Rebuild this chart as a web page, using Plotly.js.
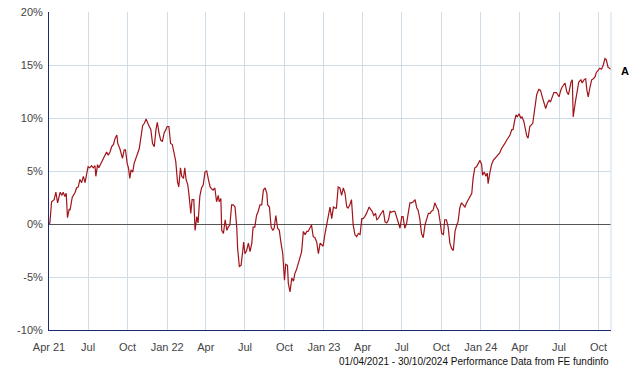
<!DOCTYPE html>
<html>
<head>
<meta charset="utf-8">
<script src="https://cdn.plot.ly/plotly-3.0.1.min.js"></script>
<style>html,body{margin:0;padding:0;background:#fff;}#chart{width:640px;height:370px;}</style>
</head>
<body>
<div id="chart"></div>
<script>
// Performance data (cumulative %), start date 01/04/2021
const startDate = '2021-04-01';
const endDate = '2024-10-30';
const seriesName = 'A';
// days elapsed since startDate
const dayOffsets = [0,2,6,12,16,20,26,30,33,37,40,43,47,49,54,61,64,68,72,76,80,84,88,91,95,99,103,107,109,113,116,121,126,130,134,138,142,146,150,154,158,160,165,171,175,178,182,185,188,191,195,198,202,206,210,214,218,222,226,230,233,237,241,245,249,252,256,260,264,268,272,275,279,283,287,291,295,299,302,306,309,313,316,319,323,326,330,333,337,340,344,347,351,355,359,363,367,371,375,379,382,386,390,394,396,400,402,406,410,414,417,421,425,429,433,437,439,443,447,451,453,456,460,464,468,472,475,479,483,487,491,495,499,503,507,509,513,517,521,524,528,532,536,540,544,548,551,555,557,561,565,569,572,576,580,584,588,592,596,600,603,607,611,615,619,623,627,631,635,638,642,646,650,654,658,662,666,669,673,677,681,685,689,693,696,700,704,708,712,716,720,724,728,731,735,739,745,749,752,756,760,763,766,770,774,778,782,786,790,794,797,801,805,809,813,817,821,824,828,832,836,840,844,848,852,856,859,863,867,871,875,879,883,887,890,894,898,902,906,910,914,918,921,925,929,933,937,941,945,949,952,956,960,964,968,972,976,980,984,987,991,995,999,1003,1007,1009,1013,1017,1020,1022,1026,1030,1034,1038,1042,1046,1049,1053,1057,1061,1065,1069,1073,1077,1080,1084,1087,1090,1094,1098,1101,1105,1108,1112,1115,1119,1126,1131,1135,1140,1144,1148,1152,1156,1160,1164,1167,1171,1175,1181,1187,1191,1194,1201,1205,1209,1212,1215,1218,1220,1225,1229,1233,1238,1241,1245,1249,1252,1255,1259,1263,1267,1271,1274,1278,1282,1286,1290,1294,1297,1301,1308];
const values = [0.0,0.1,2.1,2.3,3.0,2.0,3.0,2.7,3.0,2.6,2.9,0.6,1.4,1.3,2.5,3.0,3.4,3.5,4.2,3.9,4.5,3.9,4.8,5.4,5.3,5.5,5.3,5.5,4.5,5.6,5.3,5.7,6.2,6.4,6.8,6.5,6.8,7.3,7.5,8.1,8.4,7.6,7.1,6.2,7.0,7.0,5.7,5.3,4.3,5.1,4.9,5.7,6.2,6.7,7.1,8.2,9.3,9.5,9.9,9.5,9.3,8.9,7.6,7.3,8.9,9.6,8.6,7.9,7.8,8.6,8.9,9.2,9.2,7.6,7.5,6.8,5.9,4.0,3.5,5.3,4.5,4.3,5.3,4.2,3.7,2.7,1.0,2.3,2.3,-0.6,0.7,0.1,2.6,3.4,3.7,4.9,5.0,4.2,3.5,3.3,3.2,3.4,2.1,2.7,2.1,2.4,-0.6,-0.9,0.4,-0.6,-0.3,-0.1,1.8,1.8,1.6,-0.3,-2.3,-4.0,-3.9,-2.5,-1.7,-2.8,-2.5,-1.8,-2.6,-1.8,-0.3,-0.3,0.8,1.2,1.8,1.8,3.2,3.4,2.9,1.8,1.6,-0.3,-0.6,-0.4,0.8,-0.4,-0.6,-1.8,-2.8,-5.3,-3.8,-3.9,-5.6,-6.4,-5.1,-5.4,-4.7,-4.3,-3.6,-3.2,-2.6,-0.7,-1.0,-0.7,-0.7,-0.4,-0.1,-1.2,-1.3,-1.7,-2.8,-1.8,-2.0,-2.1,-1.0,-0.1,0.8,1.6,0.5,1.6,1.5,1.5,3.5,3.4,2.7,3.4,2.9,1.6,1.5,1.8,2.3,-0.1,-1.0,-1.2,-0.9,-1.0,0.5,0.5,0.7,1.0,1.6,1.4,1.2,0.8,1.0,0.4,0.5,0.8,1.1,1.3,0.2,0.1,0.4,1.2,1.1,1.2,1.2,0.7,0.1,-0.4,0.7,0.7,-0.4,0.0,1.0,2.0,2.0,2.1,2.3,1.5,1.3,0.5,-0.9,-1.3,-0.1,0.5,1.0,1.0,1.2,1.3,2.0,1.6,1.3,0.3,-0.9,-1.0,0.4,0.4,-0.3,-1.8,-2.3,-2.5,-0.7,-0.1,0.2,1.5,2.0,1.8,1.6,2.0,2.3,2.6,2.9,4.3,5.3,5.4,5.7,6.0,5.6,4.6,4.9,4.5,4.8,3.8,4.8,5.6,6.0,6.2,6.4,6.5,6.7,7.1,7.3,7.6,7.9,8.2,8.4,8.9,8.9,9.8,10.3,10.1,10.4,10.0,10.1,9.7,8.9,8.3,8.1,9.2,9.5,11.1,12.2,12.7,12.6,12.0,11.5,10.9,11.4,11.7,11.5,12.0,12.4,12.4,12.0,12.6,12.9,13.3,12.5,12.2,12.9,13.4,13.6,10.1,11.5,12.6,13.4,13.6,13.3,13.6,13.7,12.6,12.0,12.9,13.6,13.7,13.9,14.3,14.5,14.7,14.6,15.0,15.6,15.5,14.8,14.6];
const tickDates = ['2021-04-01','2021-07-01','2021-10-01','2022-01-01','2022-04-01','2022-07-01','2022-10-01','2023-01-01','2023-04-01','2023-07-01','2023-10-01','2024-01-01','2024-04-01','2024-07-01','2024-10-01'];
const tickLabels = ['Apr 21','Jul','Oct','Jan 22','Apr','Jul','Oct','Jan 23','Apr','Jul','Oct','Jan 24','Apr','Jul','Oct'];
const yTicks = [-10,-5,0,5,10,15,20];
const yTickLabels = ['-10%','-5%','0%','5%','10%','15%','20%'];
const footer = '01/04/2021 - 30/10/2024 Performance Data from FE fundinfo';

function addDays(s, n) {
  const d = new Date(s + 'T00:00:00Z');
  d.setUTCDate(d.getUTCDate() + n);
  return d.toISOString().slice(0, 10);
}
const dates = dayOffsets.map(n => addDays(startDate, n));

const gridColor = '#cfdde8';
const trace = {
  x: dates, y: values, type: 'scatter', mode: 'lines',
  line: {color: '#a0141a', width: 1.2},
  hoverinfo: 'skip'
};
const layout = {
  width: 640, height: 370,
  margin: {l: 49, r: 29, t: 12, b: 40},
  paper_bgcolor: '#fff', plot_bgcolor: '#fff',
  showlegend: false,
  font: {family: 'Liberation Sans, Arial, sans-serif', size: 11, color: '#333'},
  xaxis: {
    type: 'date', range: [startDate, endDate],
    tickmode: 'array', tickvals: tickDates, ticktext: tickLabels,
    showgrid: true, gridcolor: gridColor, gridwidth: 1,
    showline: true, linecolor: '#1c2a6e', linewidth: 1,
    ticks: '', ticklabelstandoff: 7, zeroline: false, tickfont: {size: 11, color: '#444'}
  },
  yaxis: {
    range: [-10, 20], tickmode: 'array', tickvals: yTicks, ticktext: yTickLabels,
    showgrid: true, gridcolor: gridColor, gridwidth: 1,
    showline: true, linecolor: '#1c2a6e', linewidth: 1,
    zeroline: true, zerolinecolor: '#555', zerolinewidth: 1,
    ticks: '', ticklabelstandoff: 3, tickfont: {size: 11, color: '#444'}
  },
  shapes: [
    {type: 'line', xref: 'paper', yref: 'paper', x0: 1, x1: 1, y0: 0, y1: 1, line: {color: gridColor, width: 1}}
  ],
  annotations: [
    {x: dates[dates.length - 1], y: values[values.length - 1], xref: 'x', yref: 'y', text: '<b>' + seriesName + '</b>', showarrow: false, xanchor: 'left', xshift: 8, yshift: -2, font: {size: 11, color: '#000'}},
    {x: 1, y: 0, xref: 'paper', yref: 'paper', yanchor: 'top', xanchor: 'right', yshift: -24, text: footer, showarrow: false, font: {size: 10, color: '#111'}}
  ]
};
Plotly.newPlot('chart', [trace], layout, {displayModeBar: false, staticPlot: true});
</script>
</body>
</html>
